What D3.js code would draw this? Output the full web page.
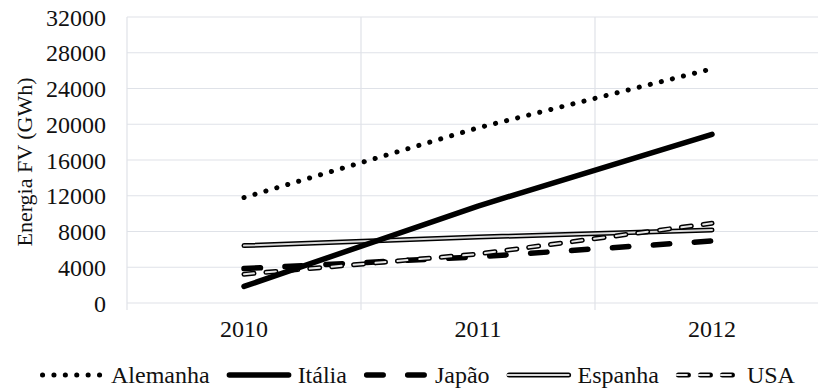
<!DOCTYPE html>
<html>
<head>
<meta charset="utf-8">
<script src="https://cdn.jsdelivr.net/npm/d3@7/dist/d3.min.js"></script>
<style>
  html, body { margin: 0; padding: 0; background: #fff; }
  svg { display: block; }
</style>
</head>
<body>
<svg id="chart" width="818" height="388"></svg>
<script>
// Annual photovoltaic generation (GWh) by country
const years = ["2010", "2011", "2012"];
const alemanha = [11800, 19600, 26200];
const italia = [1850, 10850, 18880];
const japao = [3850, 5170, 6940];
const espanha = [6420, 7380, 8170];
const usa = [3220, 5480, 8920];
const yTicks = [0, 4000, 8000, 12000, 16000, 20000, 24000, 28000, 32000];
const seriesNames = ["Alemanha", "Itália", "Japão", "Espanha", "USA"];

const FONT = "'Liberation Serif', 'DejaVu Serif', 'Times New Roman', serif";
const svg = d3.select("#chart")
  .attr("font-family", FONT)
  .style("font-family", FONT);
const W = 818;
const plotLeft = 127, plotTop = 17, plotBottom = 303, plotRight = 829;

const x = d3.scaleBand().domain(years).range([plotLeft, plotRight]).paddingInner(0).paddingOuter(0);
const y = d3.scaleLinear().domain([0, 32000]).range([plotBottom, plotTop]);
const cx = d => x(d) + x.bandwidth() / 2;

const grid = "#dfe2e8";
const ink = "#111";

// horizontal gridlines
svg.append("g").selectAll("line").data(yTicks).join("line")
  .attr("x1", plotLeft).attr("x2", W)
  .attr("y1", d => y(d)).attr("y2", d => y(d))
  .attr("stroke", grid).attr("stroke-width", 1.2);

// vertical gridlines at category boundaries
svg.append("g").selectAll("line").data(years).join("line")
  .attr("x1", d => x(d)).attr("x2", d => x(d))
  .attr("y1", plotTop).attr("y2", plotBottom + 7)
  .attr("stroke", grid).attr("stroke-width", 1.2);

// y tick labels
svg.append("g").selectAll("text").data(yTicks).join("text")
  .attr("x", 106).attr("y", d => y(d) + 8.5)
  .attr("text-anchor", "end").attr("font-size", 24)
  .attr("font-family", FONT).attr("fill", ink)
  .text(d => d);

// x tick labels
svg.append("g").selectAll("text").data(years).join("text")
  .attr("x", d => cx(d)).attr("y", 336.5)
  .attr("text-anchor", "middle").attr("font-size", 24)
  .attr("font-family", FONT).attr("fill", ink)
  .text(d => d);

// y axis title
svg.append("text")
  .attr("transform", `translate(32,${(plotTop + plotBottom) / 2 + 2}) rotate(-90)`)
  .attr("text-anchor", "middle").attr("font-size", 22)
  .attr("font-family", FONT).attr("fill", ink)
  .text("Energia FV (GWh)");

// line styles per series
const styles = {
  "Alemanha": [{ stroke: "#000", width: 5, dash: "0.1,11.3", cap: "round" }],
  "Itália": [{ stroke: "#000", width: 5.5, dash: null, cap: "round" }],
  "Japão": [{ stroke: "#000", width: 5.5, dash: "16.5,24.5", cap: "round" }],
  "Espanha": [{ stroke: "#000", width: 5, dash: null, cap: "round" },
              { stroke: "#dadada", width: 2, dash: null, cap: "round" }],
  "USA": [{ stroke: "#000", width: 5, dash: "10,12", cap: "round" },
          { stroke: "#e6e6e6", width: 2, dash: "10,12", cap: "round" }]
};
const values = { "Alemanha": alemanha, "Itália": italia, "Japão": japao, "Espanha": espanha, "USA": usa };

const line = d3.line().x((d, i) => cx(years[i])).y(d => y(d));

const drawOrder = ["Alemanha", "Japão", "Espanha", "USA", "Itália"];
const plot = svg.append("g");
drawOrder.forEach(name => {
  styles[name].forEach(s => {
    plot.append("path")
      .attr("d", line(values[name]))
      .attr("fill", "none")
      .attr("stroke", s.stroke)
      .attr("stroke-width", s.width)
      .attr("stroke-linecap", s.cap)
      .attr("stroke-linejoin", "round")
      .attr("stroke-dasharray", s.dash);
  });
});

// legend
const legend = svg.append("g");
let lx = 40;
const ly = 375;
seriesNames.forEach(name => {
  const g = legend.append("g");
  styles[name].forEach(s => {
    g.append("line")
      .attr("x1", lx + s.width / 2).attr("x2", lx + 62)
      .attr("y1", ly).attr("y2", ly)
      .attr("stroke", s.stroke)
      .attr("stroke-width", s.width)
      .attr("stroke-linecap", s.cap)
      .attr("stroke-dasharray", s.dash);
  });
  const t = g.append("text")
    .attr("x", lx + 71).attr("y", 383)
    .attr("font-size", 24)
    .attr("font-family", FONT).attr("fill", ink)
    .text(name);
  lx = lx + 71 + t.node().getComputedTextLength() + 17;
});
</script>
</body>
</html>
